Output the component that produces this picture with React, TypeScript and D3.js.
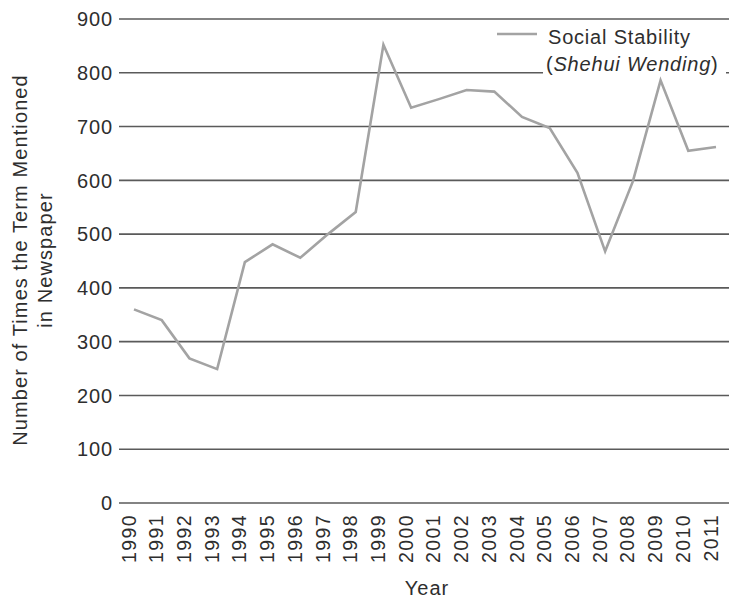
import React from "react";
import * as d3 from "d3";

const years = [1990, 1991, 1992, 1993, 1994, 1995, 1996, 1997, 1998, 1999, 2000, 2001, 2002, 2003, 2004, 2005, 2006, 2007, 2008, 2009, 2010, 2011];
const mentions = [360, 340, 269, 249, 448, 481, 456, 500, 541, 852, 735, 751, 768, 765, 718, 697, 614, 468, 598, 786, 655, 662];
const yTicks = [0, 100, 200, 300, 400, 500, 600, 700, 800, 900];
const seriesName = "Social Stability";
const seriesSub = "Shehui Wending";

const W = 729;
const H = 598;
const font = "'Liberation Sans', Arial, Helvetica, sans-serif";
const ink = "#2e2e2e";

export default function App() {
  const x = d3.scaleLinear().domain([1990, 2011]).range([134, 716]);
  const y = d3.scaleLinear().domain([0, 900]).range([503, 19]);
  const line = d3
    .line<number>()
    .x((_, i) => x(years[i]))
    .y((d) => y(d));

  return (
    <svg
      width={W}
      height={H}
      style={{ position: "absolute", left: 0, top: 0, background: "#fff" }}
      fontFamily={font}
    >
      <rect x={0} y={0} width={W} height={H} fill="#fff" />
      {yTicks.map((t) => (
        <g key={t}>
          <line x1={119} x2={W} y1={y(t)} y2={y(t)} stroke="#5a5a5a" strokeWidth={1.6} />
          <text x={113} y={y(t)} dy="0.36em" textAnchor="end" fontSize={20} letterSpacing={0.9} fill={ink}>
            {t}
          </text>
        </g>
      ))}
      {years.map((yr) => (
        <text
          key={yr}
          transform={`translate(${x(yr) + 1.5},${514}) rotate(-90)`}
          textAnchor="end"
          fontSize={19.5}
          letterSpacing={1.4}
          fill={ink}
        >
          {yr}
        </text>
      ))}
      <text x={427} y={595} textAnchor="middle" fontSize={20} letterSpacing={1} fill={ink}>
        Year
      </text>
      <g transform="translate(27,260) rotate(-90)">
        <text x={0} y={0} textAnchor="middle" fontSize={20} letterSpacing={1.1} fill={ink}>
          Number of Times the Term Mentioned
        </text>
        <text x={0} y={25} textAnchor="middle" fontSize={20} letterSpacing={1.1} fill={ink}>
          in Newspaper
        </text>
      </g>
      <rect x={543} y={24} width={183} height={56} fill="#fff" />
      <line x1={497} x2={537} y1={34} y2={34} stroke="#a3a3a3" strokeWidth={2.6} />
      <text x={548} y={44} fontSize={20} letterSpacing={0.8} fill={ink}>
        {seriesName}
      </text>
      <text x={546} y={71} fontSize={20} letterSpacing={0.8} fill={ink}>
        (<tspan fontStyle="italic">{seriesSub}</tspan>)
      </text>
      <path d={line(mentions) || ""} fill="none" stroke="#a3a3a3" strokeWidth={2.6} strokeLinejoin="miter" />
    </svg>
  );
}
